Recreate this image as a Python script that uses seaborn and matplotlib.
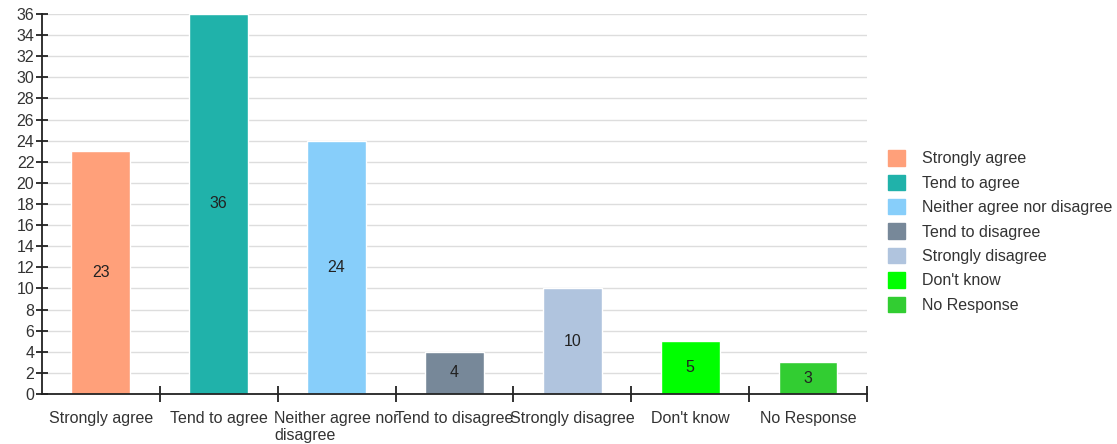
import matplotlib
matplotlib.use("Agg")
import matplotlib.pyplot as plt
import matplotlib.patches as mpatches
import seaborn as sns
import numpy as np
import pandas as pd

# Survey responses shown in the chart.
categories = ["Strongly agree", "Tend to agree", "Neither agree nor disagree",
              "Tend to disagree", "Strongly disagree", "Don't know", "No Response"]
tick_labels = ["Strongly agree", "Tend to agree", "Neither agree nor\ndisagree",
               "Tend to disagree", "Strongly disagree", "Don't know", "No Response"]
counts = [23, 36, 24, 4, 10, 5, 3]
colors = ["#FFA07A", "#20B2AA", "#87CEFA", "#778899", "#B0C4DE", "#00FF00", "#32CD32"]

sns.set_style("white")
plt.rcParams["font.family"] = ["Liberation Sans", "DejaVu Sans"]
FS = 11.5

df = pd.DataFrame({"category": categories, "count": counts})

fig = plt.figure(figsize=(11.17, 4.44), dpi=100)
ax = fig.add_axes([0.0376, 0.1126, 0.7385, 0.856])

sns.barplot(data=df, x="category", y="count", hue="category",
            hue_order=categories, order=categories, palette=colors,
            width=0.5, dodge=False, legend=False, saturation=1, ax=ax)

for cont in ax.containers:
    ax.bar_label(cont, label_type="center", fontsize=FS, color="#222222")

# Axes limits and grid
ax.set_xlim(-0.5, len(categories) - 0.5)
ax.set_ylim(0, 36)
ax.set_yticks(np.arange(0, 37, 2))
ax.yaxis.grid(True, color="#dddddd", linewidth=1)
ax.set_axisbelow(True)

# Category labels centered, tick marks at the category boundaries
ax.set_xticks(np.arange(len(categories)))
ax.set_xticklabels(tick_labels, fontsize=FS, color="#333333",
                   multialignment="left")
ax.set_xticks(np.arange(len(categories)) + 0.5, minor=True)
ax.tick_params(axis="x", which="major", bottom=True, length=0, pad=12)
ax.tick_params(axis="x", which="minor", bottom=True, direction="inout",
               length=12, width=1.3, color="#222222")
ax.tick_params(axis="y", left=True, direction="inout", length=9, width=1.3,
               color="#222222", labelsize=FS, labelcolor="#333333", pad=1)

ax.set_xlabel("")
ax.set_ylabel("")
for side in ["top", "right"]:
    ax.spines[side].set_visible(False)
for side in ["left", "bottom"]:
    ax.spines[side].set_color("#222222")
    ax.spines[side].set_linewidth(1.3)

# Legend on the right
handles = [mpatches.Patch(color=c, label=l) for c, l in zip(colors, categories)]
fig.legend(handles=handles, loc="upper left", bbox_to_anchor=(0.782, 0.694),
           frameon=False, fontsize=FS, handlelength=1.1, handleheight=1.1,
           handletextpad=1.05, labelspacing=0.52, labelcolor="#333333")

fig.savefig("out.png", dpi=100)
